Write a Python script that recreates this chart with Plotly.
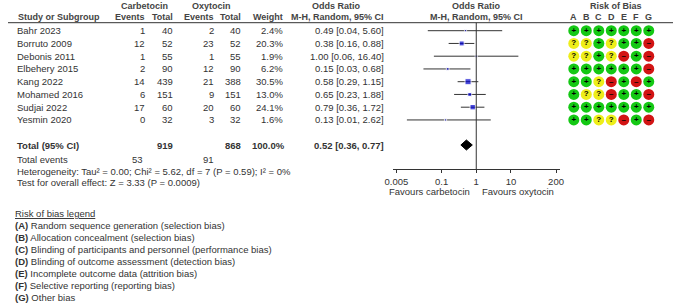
import math
import plotly.graph_objects as go

# ---------------- data ----------------
studies = ["Bahr 2023", "Borruto 2009", "Debonis 2011", "Elbehery 2015",
           "Kang 2022", "Mohamed 2016", "Sudjai 2022", "Yesmin 2020"]
carb_events = [1, 12, 1, 2, 14, 6, 17, 0]
carb_total = [40, 52, 55, 90, 439, 151, 60, 32]
oxy_events = [2, 23, 1, 12, 21, 9, 20, 3]
oxy_total = [40, 52, 55, 90, 388, 151, 60, 32]
weights = [2.4, 20.3, 1.9, 6.2, 30.5, 13.0, 24.1, 1.6]
or_est = [0.49, 0.38, 1.00, 0.15, 0.58, 0.65, 0.79, 0.13]
or_lo = [0.04, 0.16, 0.06, 0.03, 0.29, 0.23, 0.36, 0.01]
or_hi = [5.60, 0.88, 16.40, 0.68, 1.15, 1.88, 1.72, 2.62]
rob = ["+++++++", "??+?++-", "??+?-+-", "++++++-",
       "++?-+-+", "+??-++-", "+++++++", "++??-+-"]
rob_domains = ["A", "B", "C", "D", "E", "F", "G"]
total_or, total_lo, total_hi = 0.52, 0.36, 0.77
total_weight = "100.0%"
axis_ticks = [0.005, 0.1, 1, 10, 200]
tick_labels = ["0.005", "0.1", "1", "10", "200"]
heterogeneity = "Heterogeneity: Tau² = 0.00; Chi² = 5.62, df = 7 (P = 0.59); I² = 0%"
overall = "Test for overall effect: Z = 3.33 (P = 0.0009)"
legend_items = [
    ("(A)", "Random sequence generation (selection bias)"),
    ("(B)", "Allocation concealment (selection bias)"),
    ("(C)", "Blinding of participants and personnel (performance bias)"),
    ("(D)", "Blinding of outcome assessment (detection bias)"),
    ("(E)", "Incomplete outcome data (attrition bias)"),
    ("(F)", "Selective reporting (reporting bias)"),
    ("(G)", "Other bias"),
]

# ---------------- layout constants (pixels) ----------------
W, H = 677, 308
FONT = "Liberation Sans, Arial, sans-serif"
TXT = "#333333"
HDR = "#444444"
BODY = 9.5
ROW0, DY = 30.7, 12.75
row_y = [ROW0 + i * DY for i in range(len(studies))]
Y_HDR1, Y_HDR2, Y_LINE = 5.5, 17.0, 22.7
Y_TOTAL, Y_TEV, Y_HET, Y_TEST = 145.0, 159.0, 171.0, 182.5
Y_AXIS = 169.3
Y_FAV = 191.0
Y_LEG0, LEG_DY = 213.5, 11.95
X_NAME = 9
X_CE, X_CT, X_OE, X_OT, X_W, X_OR = 139, 168, 210, 237, 280, 383
FOREST_L, FOREST_R = 392, 562
PX_PER_DEC = 35.3
X_ONE = 476.7
ROB_X0, ROB_DX = 576.0, 12.72
rob_x = [ROB_X0 + j * ROB_DX for j in range(len(rob_domains))]
ROB_COL = {"+": "#14c814", "?": "#eeee1a", "-": "#d21414"}
ROB_SYM = {"+": "+", "?": "?", "-": "–"}

fig = go.Figure()
annotations = []


def ann(x, y, text, anchor="left", bold=False, size=BODY, color=TXT, xref="x2"):
    if bold:
        text = "<b>" + text + "</b>"
    annotations.append(dict(x=x, y=y, xref=xref, yref="y", text=text,
                            showarrow=False, xanchor=anchor, yanchor="middle",
                            borderpad=0, borderwidth=0,
                            font=dict(family=FONT, size=size, color=color)))


# headers
ann(139, Y_HDR1, "Carbetocin", "center", True, 9, HDR)
ann(207, Y_HDR1, "Oxytocin", "center", True, 9, HDR)
ann(334, Y_HDR1, "Odds Ratio", "center", True, 9, HDR)
ann(477, Y_HDR1, "Odds Ratio", "center", True, 9, HDR)
ann(619, Y_HDR1, "Risk of Bias", "center", True, 9, HDR)
ann(10, Y_HDR2, "Study or Subgroup", "left", True, 9, HDR)
ann(X_CE, Y_HDR2, "Events", "right", True, 9, HDR)
ann(X_CT, Y_HDR2, "Total", "right", True, 9, HDR)
ann(X_OE, Y_HDR2, "Events", "right", True, 9, HDR)
ann(X_OT, Y_HDR2, "Total", "right", True, 9, HDR)
ann(X_W, Y_HDR2, "Weight", "right", True, 9, HDR)
ann(X_OR, Y_HDR2, "M-H, Random, 95% CI", "right", True, 9, HDR)
ann(477, Y_HDR2, "M-H, Random, 95% CI", "center", True, 9, HDR)
for j, d in enumerate(rob_domains):
    ann(rob_x[j], Y_HDR2, d, "center", True, 9, HDR)

# study rows
for i, s in enumerate(studies):
    y = row_y[i]
    ann(X_NAME, y, s)
    ann(X_CE, y, str(carb_events[i]), "right")
    ann(X_CT, y, str(carb_total[i]), "right")
    ann(X_OE, y, str(oxy_events[i]), "right")
    ann(X_OT, y, str(oxy_total[i]), "right")
    ann(X_W, y, f"{weights[i]:.1f}%", "right")
    ann(X_OR, y, f"{or_est[i]:.2f} [{or_lo[i]:.2f}, {or_hi[i]:.2f}]", "right")

# totals
ann(X_NAME, Y_TOTAL, "Total (95% CI)", "left", True)
ann(X_CT, Y_TOTAL, str(sum(carb_total)), "right", True)
ann(X_OT, Y_TOTAL, str(sum(oxy_total)), "right", True)
ann(X_W + 2, Y_TOTAL, total_weight, "right", True)
ann(X_OR, Y_TOTAL, f"{total_or:.2f} [{total_lo:.2f}, {total_hi:.2f}]", "right", True)
ann(X_NAME, Y_TEV, "Total events")
ann(X_CE - 2, Y_TEV, str(sum(carb_events)), "right")
ann(X_OE, Y_TEV, str(sum(oxy_events)), "right")
ann(X_NAME, Y_HET, heterogeneity)
ann(X_NAME, Y_TEST, overall)

# legend
ann(7, Y_LEG0, "<u>Risk of bias legend</u>")
for k, (lab, txt) in enumerate(legend_items):
    ann(7, Y_LEG0 + (k + 1) * LEG_DY, f"<b>{lab}</b> {txt}")

# favours labels (log axis coordinates)
annotations.append(dict(x=0, y=Y_FAV, xref="x", yref="y", text="Favours carbetocin",
                        showarrow=False, xanchor="right", yanchor="middle", xshift=-4,
                        font=dict(family=FONT, size=BODY, color=TXT)))
annotations.append(dict(x=0, y=Y_FAV, xref="x", yref="y", text="Favours oxytocin",
                        showarrow=False, xanchor="left", yanchor="middle", xshift=4,
                        font=dict(family=FONT, size=BODY, color=TXT)))

# ---------------- forest plot ----------------
lx, ly = [], []
for i in range(len(studies)):
    lx += [or_lo[i], or_hi[i], None]
    ly += [row_y[i], row_y[i], None]
fig.add_trace(go.Scatter(x=lx, y=ly, mode="lines", xaxis="x", yaxis="y",
                         line=dict(color="#333333", width=1), hoverinfo="skip"))
fig.add_trace(go.Scatter(x=or_est, y=row_y, mode="markers", xaxis="x", yaxis="y",
                         marker=dict(symbol="square", color="#0000cc",
                                     size=[max(2.2, 1.1 * math.sqrt(w)) for w in weights]),
                         hoverinfo="skip"))
# null line
fig.add_trace(go.Scatter(x=[1, 1], y=[Y_LINE, Y_AXIS], mode="lines", xaxis="x", yaxis="y",
                         line=dict(color="#333333", width=1), hoverinfo="skip"))
# diamond
fig.add_trace(go.Scatter(x=[total_lo, total_or, total_hi, total_or, total_lo],
                         y=[Y_TOTAL, Y_TOTAL - 5, Y_TOTAL, Y_TOTAL + 5, Y_TOTAL],
                         mode="lines", fill="toself", fillcolor="black",
                         line=dict(color="black", width=1), xaxis="x", yaxis="y",
                         hoverinfo="skip"))

# ---------------- risk of bias ----------------
cx, cy, cc, ct = [], [], [], []
for i, r in enumerate(rob):
    for j, ch in enumerate(r):
        cx.append(rob_x[j])
        cy.append(row_y[i])
        cc.append(ROB_COL[ch])
        ct.append("<b>" + ROB_SYM[ch] + "</b>")
fig.add_trace(go.Scatter(x=cx, y=cy, mode="markers+text", xaxis="x2", yaxis="y",
                         marker=dict(size=11, color=cc, line=dict(width=0)),
                         text=ct, textposition="middle center",
                         textfont=dict(family=FONT, size=8, color="black"),
                         hoverinfo="skip"))

log_l = math.log10(1) + (FOREST_L - X_ONE) / PX_PER_DEC
log_r = math.log10(1) + (FOREST_R - X_ONE) / PX_PER_DEC

fig.update_layout(
    width=W, height=H, margin=dict(l=0, r=0, t=0, b=0),
    paper_bgcolor="white", plot_bgcolor="rgba(0,0,0,0)",
    showlegend=False,
    xaxis=dict(type="log", range=[log_l, log_r],
               domain=[FOREST_L / W, FOREST_R / W],
               anchor="free", position=1 - Y_AXIS / H,
               showline=True, linecolor="#333333", linewidth=1,
               ticks="outside", ticklen=3, tickcolor="#333333", tickwidth=1,
               tickvals=axis_ticks, ticktext=tick_labels,
               tickfont=dict(family=FONT, size=BODY, color=TXT),
               showgrid=False, zeroline=False, fixedrange=True),
    xaxis2=dict(range=[0, W], domain=[0, 1], anchor="y", visible=False,
                showgrid=False, zeroline=False),
    yaxis=dict(range=[H, 0], domain=[0, 1], visible=False,
               showgrid=False, zeroline=False),
    annotations=annotations,
    shapes=[dict(type="line", xref="paper", yref="y", x0=0, x1=1,
                 y0=Y_LINE, y1=Y_LINE, line=dict(color="#333333", width=1))],
)

fig.write_html("out.html", config={"displayModeBar": False},
               post_script="document.body.style.margin='0px';document.body.style.overflow='hidden';")
